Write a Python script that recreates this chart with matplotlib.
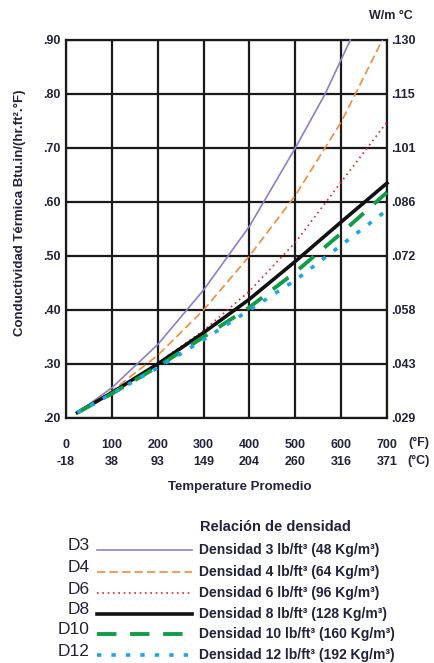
import matplotlib
matplotlib.use("Agg")
import matplotlib.pyplot as plt

temps_f = [25, 100, 200, 300, 400, 500, 600, 700]
d3_t = [25, 100, 200, 300, 400, 500, 565, 620]
d3_v = [0.21, 0.256, 0.336, 0.437, 0.555, 0.70, 0.80, 0.90]
d4_t = [25, 100, 200, 300, 400, 500, 600, 690]
d4_v = [0.21, 0.250, 0.316, 0.400, 0.500, 0.612, 0.748, 0.90]
d6_v = [0.21, 0.246, 0.302, 0.362, 0.435, 0.525, 0.637, 0.748]
d8_v = [0.21, 0.247, 0.300, 0.358, 0.420, 0.490, 0.563, 0.635]
d10_v = [0.21, 0.245, 0.295, 0.350, 0.405, 0.470, 0.542, 0.618]
d12_v = [0.21, 0.245, 0.293, 0.345, 0.400, 0.455, 0.520, 0.585]

xticks_f = [0, 100, 200, 300, 400, 500, 600, 700]
xticks_c = ["-18", "38", "93", "149", "204", "260", "316", "371"]
yticks = [0.20, 0.30, 0.40, 0.50, 0.60, 0.70, 0.80, 0.90]
ylabels_left = [".20", ".30", ".40", ".50", ".60", ".70", ".80", ".90"]
ylabels_right = [".029", ".043", ".058", ".072", ".086", ".101", ".115", ".130"]

codes = ["D3", "D4", "D6", "D8", "D10", "D12"]
names = ["Densidad 3 lb/ft³ (48 Kg/m³)", "Densidad 4 lb/ft³ (64 Kg/m³)",
         "Densidad 6 lb/ft³ (96 Kg/m³)", "Densidad 8 lb/ft³ (128 Kg/m³)",
         "Densidad 10 lb/ft³ (160 Kg/m³)", "Densidad 12 lb/ft³ (192 Kg/m³)"]

plt.rcParams['font.family'] = ['Liberation Sans', 'DejaVu Sans']
tc = "#22223a"
fw = "bold"

styles = [
    dict(color="#8a80c8", lw=1.2, ls="-"),
    dict(color="#f58a3a", lw=1.2, ls=(0, (5, 2.5))),
    dict(color="#e8212e", lw=1.2, ls=(0, (1, 2.2))),
    dict(color="#111111", lw=2.6, ls="-"),
    dict(color="#0f9d48", lw=2.8, ls=(0, (5, 3.5))),
    dict(color="#1aa7e8", lw=2.6, ls=(0, (1.2, 2.8))),
]

fig = plt.figure(figsize=(4.35, 6.63), dpi=100)
ax = fig.add_axes([66/435, 1-418/663, 321/435, 378/663])
ax.set_xlim(0, 700)
ax.set_ylim(0.20, 0.90)
ax.set_xticks(xticks_f)
ax.set_yticks(yticks)
ax.grid(True, color="#1a1a1a", lw=1.6)
ax.set_axisbelow(True)
for s in ax.spines.values():
    s.set_color("#1a1a1a"); s.set_linewidth(1.6)
ax.tick_params(length=0, pad=4)
ax.set_yticklabels(ylabels_left, fontsize=9, color=tc, fontweight=fw)
ax.set_xticklabels([f"{v}\n{c}" for v, c in zip(xticks_f, xticks_c)],
                   fontsize=9, color=tc, linespacing=1.55, fontweight=fw)
ax.tick_params(axis='x', pad=15)

series = [(d3_t, d3_v), (d4_t, d4_v), (temps_f, d6_v), (temps_f, d8_v),
          (temps_f, d10_v), (temps_f, d12_v)]
for (t, v), st in zip(series, styles):
    ax.plot(t, v, color=st["color"], lw=st["lw"], ls=st["ls"], clip_on=False, zorder=3)

ax2 = ax.twinx()
ax2.set_ylim(0.20, 0.90)
ax2.set_yticks(yticks)
ax2.set_yticklabels(ylabels_right, fontsize=9, color=tc, fontweight=fw)
ax2.tick_params(length=0, pad=3)
for s in ax2.spines.values():
    s.set_visible(False)

fig.text(391/435, 1-16/663, "W/m °C", fontsize=9, color=tc, ha="center", va="center", fontweight=fw)
fig.text(419/435, 1-443/663, "(°F)", fontsize=9, color=tc, ha="center", va="center", fontweight=fw)
fig.text(419/435, 1-461/663, "(°C)", fontsize=9, color=tc, ha="center", va="center", fontweight=fw)
fig.text(240/435, 1-487/663, "Temperature Promedio", fontsize=9.5, color=tc, ha="center",
         va="center", fontweight=fw)
fig.text(20/435, 1-213/663, "Conductividad Térmica Btu.in/(hr.ft².°F)", fontsize=9.5,
         color=tc, ha="center", va="center", rotation=90, fontweight=fw)

# legend
lax = fig.add_axes([0, 0, 1, 1], facecolor="none")
lax.set_xlim(0, 435); lax.set_ylim(663, 0); lax.axis("off")
lax.text(200, 527, "Relación de densidad", fontsize=10.5, color=tc, ha="left", va="center",
         fontweight=fw)
rows = [550, 572, 593, 614, 634, 655]
for y, code, name, st in zip(rows, codes, names, styles):
    lax.text(90, y - 4, code, fontsize=12.5, color=tc, ha="right", va="center")
    lax.plot([97, 192], [y, y], color=st["color"], lw=st["lw"], ls=st["ls"])
    lax.text(199, y, name, fontsize=10, color=tc, ha="left", va="center", fontweight=fw)

fig.savefig("out.png", dpi=100)
